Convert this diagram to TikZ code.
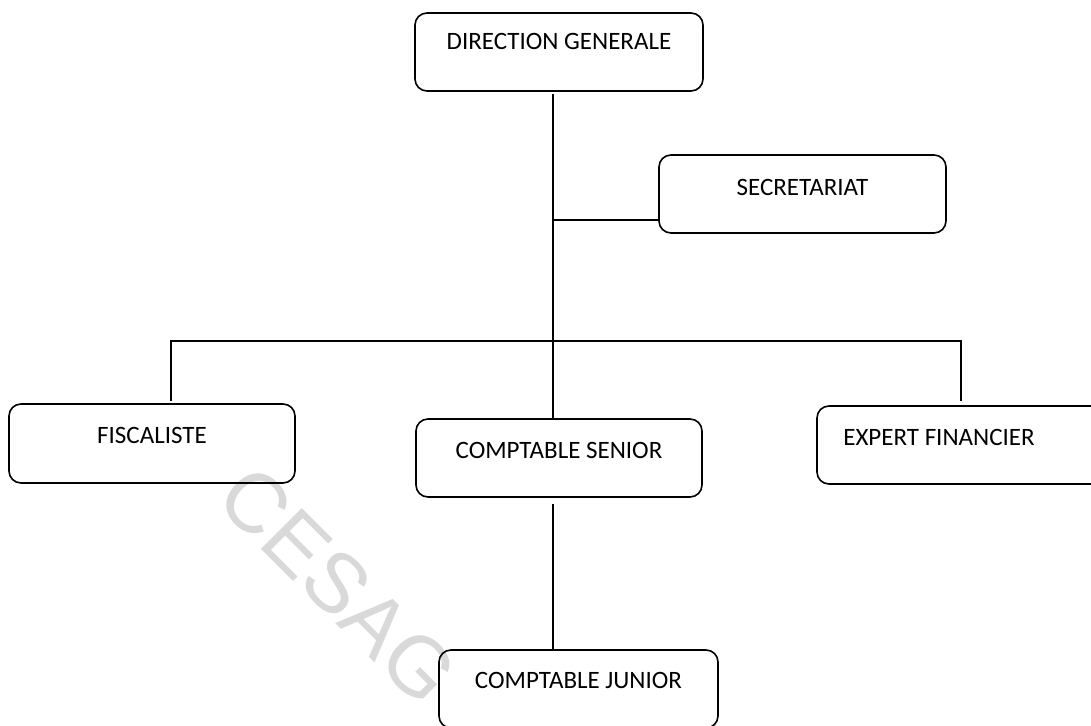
\documentclass[tikz,border=0pt]{standalone}
\usepackage{fontspec}
\setmainfont{Carlito}
\newfontfamily\wmfont{Liberation Sans}
\usetikzlibrary{calc}
\definecolor{wmgray}{RGB}{217,217,217}
\begin{document}
\begin{tikzpicture}[x=1pt,y=-1pt,
  box/.style={draw, line width=1.6pt, rounded corners=12pt, inner xsep=0pt, inner ysep=0pt,
    outer sep=0pt, anchor=north west, font=\fontsize{25}{30}\selectfont},
  conn/.style={line width=1.6pt},
  wmtext/.style={text=wmgray, inner sep=0pt, font=\wmfont\fontsize{84}{90}\selectfont}]
\clip (0,0) rectangle (1091,725);
\fill[white] (0,0) rectangle (1091,725);
% watermark
\node[wmtext, rotate=-45] (wm) at (338,585) {CESAG};
% boxes
\node[box, minimum width=288pt, text height=37pt, text depth=41pt] (dg) at (415,13) {DIRECTION GENERALE};
\node[box, minimum width=287pt, text height=40pt, text depth=38pt] (sec) at (659,155) {SECRETARIAT};
\node[box, minimum width=286pt, text height=39pt, text depth=40pt] (fis) at (9,404) {FISCALISTE};
\node[box, minimum width=286pt, text height=39pt, text depth=39pt] (sen) at (416,419) {COMPTABLE SENIOR};
\node[box, minimum width=287pt, text height=39pt, text depth=39pt] (exp) at (817,406) {EXPERT FINANCIER\hspace*{43pt}};
\node[box, minimum width=279pt, text height=38pt, text depth=40pt] (jun) at (439,650) {COMPTABLE JUNIOR};
% junction points
\coordinate (j1) at (553,220);
\coordinate (bus) at (553,341);
\coordinate (bl) at (171,341);
\coordinate (br) at (961,341);
% connectors
\draw[conn, shorten <=3pt] (dg.south -| bus) -- (sen.north -| bus);
\draw[conn] (j1) -- (sec.west |- j1);
\draw[conn, shorten <=3pt, shorten >=5pt] (fis.north -| bl) -- (bl) -- (br) -- (exp.north -| br);
\draw[conn, shorten <=7pt] (sen.south -| bus) -- (jun.north -| bus);
\end{tikzpicture}
\end{document}
